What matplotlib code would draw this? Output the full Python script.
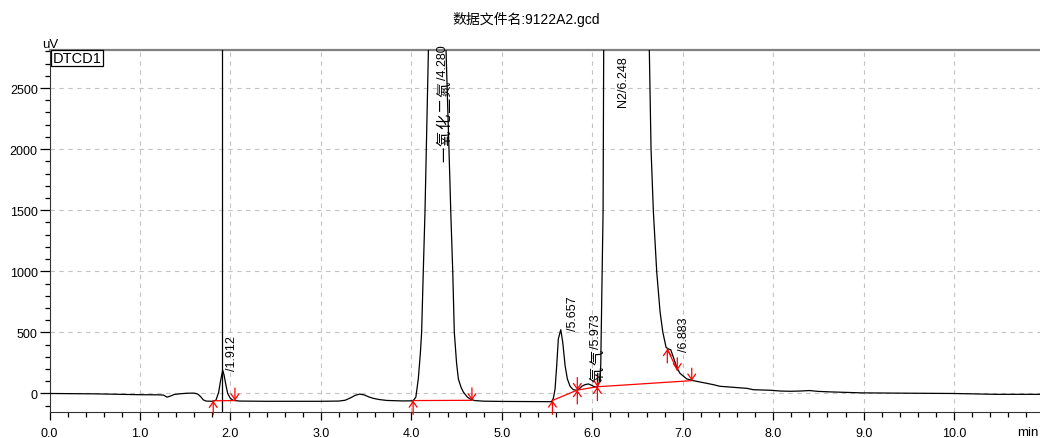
import matplotlib
matplotlib.use("Agg")
import matplotlib.pyplot as plt
from matplotlib.ticker import MultipleLocator, FormatStrFormatter
from matplotlib.transforms import offset_copy

FAM = ['Liberation Sans', 'Noto Sans CJK SC', 'DejaVu Sans']
plt.rcParams['font.family'] = FAM

# ---- chromatogram trace (time in min, signal in uV) ----
times = [0.00, 0.50, 1.00, 1.20, 1.26, 1.30, 1.34, 1.38, 1.45, 1.52, 1.60, 1.64,
         1.67, 1.70, 1.73, 1.80, 1.84, 1.87, 1.89, 1.915, 1.93, 1.95, 1.97, 2.00,
         2.03, 2.10, 2.40, 3.00, 3.20, 3.27, 3.33, 3.38, 3.43, 3.48, 3.53, 3.58,
         3.65, 3.73, 3.90, 4.02, 4.05, 4.077, 4.10, 4.114, 4.132, 4.151, 4.18,
         4.28, 4.38, 4.428, 4.436, 4.458, 4.475, 4.50, 4.52, 4.55, 4.575, 4.62,
         4.65, 4.70, 4.80, 5.00, 5.55, 5.57, 5.589, 5.607, 5.625, 5.652, 5.674,
         5.70, 5.725, 5.755, 5.79, 5.828, 5.86, 5.884, 5.92, 5.957, 5.99, 6.012,
         6.056, 6.08, 6.094, 6.105, 6.12, 6.127, 6.20, 6.40, 6.60, 6.631, 6.65,
         6.676, 6.713, 6.75, 6.78, 6.816, 6.842, 6.868, 6.897, 6.934, 6.97, 7.045,
         7.118, 7.34, 7.41, 7.71, 7.78, 7.98, 8.08, 8.19, 8.30, 8.40, 8.50, 8.63,
         8.98, 9.55, 9.99, 10.47, 10.95]
signal = [0, -3, -10, -11, -13, -30, -20, -8, -2, 2, 3, -5,
          -25, -52, -62, -64, -55, 10, 100, 190, 150, 70, 0, -40,
          -56, -62, -64, -64, -62, -55, -35, -15, -5, -12, -28, -40,
          -50, -57, -61, -60, -30, 119, 330, 503, 994, 1485, 2500,
          6000, 2900, 1700, 1485, 994, 503, 250, 119, 50, 12, -30,
          -45, -58, -63, -65, -67, -40, 37, 227, 446, 522, 419,
          227, 119, 59, 31, 26, 40, 59, 72, 78, 68, 59,
          51, 100, 227, 773, 1500, 2900, 8000, 9000, 3400, 2811, 2000,
          1485, 994, 667, 503, 378, 364, 358, 296, 214, 165, 119,
          105, 72, 59, 42, 31, 26, 20, 18, 20, 24, 17, 13,
          5, 2, 0, -7, -7]

# ---- integration baselines (red) ----
base_groups = [
    ([1.81, 2.05], [-60, -58]),
    ([4.02, 4.67], [-58, -56]),
    ([5.56, 5.835, 6.057, 7.10], [-57, 28, 55, 105]),
    ([6.83, 6.94], [364, 190]),
]
# marker kinds at each baseline point: 'up', 'down', 'star'
base_marks = [
    ['up', 'down'],
    ['up', 'down'],
    ['up', 'star', 'star', 'down'],
    ['up', 'down'],
]

# ---- peak labels: (compound name, retention time text) ----
peak_names = ['', '一氧化二氮', '', '氧气', 'N2', '']
peak_rts = ['1.912', '4.280', '5.657', '5.973', '6.248', '6.883']
label_x = [1.950, 4.280, 5.720, 5.972, 6.271, 6.952]
label_y = [195, 1903, 520, 105, 2355, 350]

event_line_t = 1.910

x_major = [0, 1, 2, 3, 4, 5, 6, 7, 8, 9, 10]
y_major = [0, 500, 1000, 1500, 2000, 2500]

W, H = 1040, 439
fig = plt.figure(figsize=(W / 100, H / 100), dpi=100)
left_px, right_px, top_px, bot_px = 49.5, 1040, 51, 413.3
ax = fig.add_axes([left_px / W, 1 - bot_px / H, (right_px - left_px) / W, (bot_px - top_px) / H])

ax.set_xlim(0, 10.95)
ax.set_ylim(-154, 2811)

ax.set_xticks(x_major)
ax.set_yticks(y_major)
ax.xaxis.set_major_formatter(FormatStrFormatter('%.1f'))
ax.xaxis.set_minor_locator(MultipleLocator(0.2))
ax.yaxis.set_minor_locator(MultipleLocator(100))
ax.tick_params(axis='both', which='major', labelsize=9, color='black', width=0.9)
ax.tick_params(axis='y', which='major', length=7.5, pad=1)
ax.tick_params(axis='y', which='minor', length=3.5, width=0.9)
ax.tick_params(axis='x', which='major', length=5.5, pad=5)
ax.tick_params(axis='x', which='minor', length=3.5, width=0.9)

ax.grid(True, which='major', linestyle=(0, (4, 4)), color='#c4c4c4', linewidth=0.8)
ax.set_axisbelow(True)

ax.spines['right'].set_visible(False)
ax.spines['top'].set_color('#808080')
ax.spines['top'].set_linewidth(1.6)
ax.spines['left'].set_color('#333333')
ax.spines['bottom'].set_color('#333333')

# trace
ax.plot(times, signal, color='black', linewidth=0.9, zorder=3)
ax.axvline(event_line_t, color='black', linewidth=0.9, zorder=3)

# baselines + markers
ahead = '->,head_length=0.4,head_width=0.28'
for (bt, bv), kinds in zip(base_groups, base_marks):
    ax.plot(bt, bv, color='red', linewidth=0.9, zorder=4)
    for t, v, k in zip(bt, bv, kinds):
        offs = []
        if k in ('up', 'star'):
            offs.append(-10)
        if k in ('down', 'star'):
            offs.append(9)
        for o in offs:
            ax.annotate('', xy=(t, v), xytext=(0, o), textcoords='offset points',
                        arrowprops=dict(arrowstyle=ahead, color='red', lw=0.9,
                                        shrinkA=0, shrinkB=0), zorder=5,
                        annotation_clip=False)

# labels: CJK characters are larger / widely spaced along the text direction
CJK_STEP = 16.3  # pixels per CJK character
for name, rt, lx, ly in zip(peak_names, peak_rts, label_x, label_y):
    off = 0.0
    for ch in name:
        if ord(ch) > 0x2E80:
            tr = offset_copy(ax.transData, fig=fig, x=0, y=off, units='dots')
            ax.text(lx, ly, ch, rotation=90, ha='left', va='bottom', fontsize=11,
                    family=['Noto Sans CJK SC'], transform=tr, zorder=6, clip_on=False)
            off += CJK_STEP
    latin = ''.join(c for c in name if ord(c) <= 0x2E80) + '/' + rt
    tr = offset_copy(ax.transData, fig=fig, x=0, y=off, units='dots')
    ax.text(lx, ly, latin, rotation=90, ha='left', va='bottom', fontsize=9,
            family=FAM, transform=tr, zorder=6, clip_on=False)

# DTCD1 box
ax.text(0.003, 0.997, 'DTCD1', transform=ax.transAxes, ha='left', va='top', fontsize=10.5,
        bbox=dict(boxstyle='square,pad=0.08', facecolor='white', edgecolor='black', linewidth=0.9),
        zorder=7)

fig.text(42 / W, 1 - 45 / H, 'uV', ha='left', va='center', fontsize=9.5)
fig.text(1017 / W, 1 - 433 / H, 'min', ha='left', va='center', fontsize=9.5)
fig.text(526 / W, 1 - 19 / H, '数据文件名:9122A2.gcd', ha='center', va='center', fontsize=10,
         family=FAM)

fig.savefig('out.png', dpi=100)
